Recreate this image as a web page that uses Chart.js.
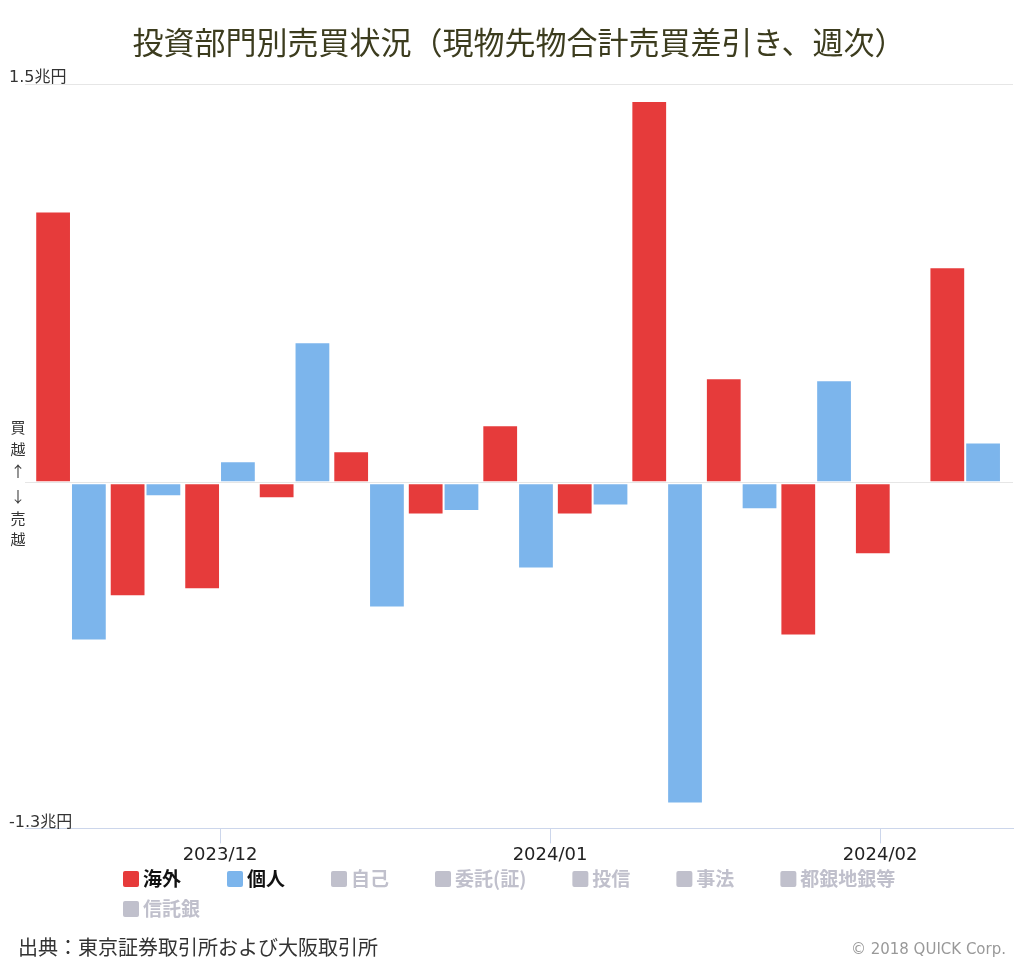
<!DOCTYPE html>
<html lang="ja">
<head>
<meta charset="utf-8">
<title>投資部門別売買状況</title>
<script src="https://cdn.jsdelivr.net/npm/chart.js@4.4.1/dist/chart.umd.min.js"></script>
<style>
  html, body { margin: 0; padding: 0; background: #fff; }
  #wrap { width: 1024px; height: 964px; position: relative; }
</style>
</head>
<body>
<div id="wrap"><canvas id="flowChart" width="1024" height="964"></canvas></div>
<script>
// ================================================
// 投資部門別売買状況 - weekly net buying (兆円)
// ================================================

// week (Friday) of each bar group
const weeks = ['2023-11-17', '2023-11-24', '2023-12-01', '2023-12-08', '2023-12-15', '2023-12-22',
  '2023-12-29', '2024-01-05', '2024-01-12', '2024-01-19', '2024-01-26', '2024-02-02', '2024-02-09'];

// 海外 / 個人 net buy (+) or sell (-), trillion yen
const foreign = [1.02, -0.427, -0.40, -0.058, 0.119, -0.119, 0.216, -0.119, 1.436, 0.393, -0.574, -0.269, 0.811];
const individual = [-0.593, -0.051, 0.081, 0.529, -0.469, -0.106, -0.322, -0.085, -1.206, -0.10, 0.386, 0.009, 0.152];

// series shown greyed-out in the legend
const hiddenSeries = ['自己', '委託(証)', '投信', '事法', '都銀地銀等', '信託銀'];

// axis ticks
const tickDates = ['2023-12-01', '2024-01-01', '2024-02-01'];
const tickLabels = ['2023/12', '2024/01', '2024/02'];
const yTicks = [-1.3, 0, 1.5];

const RED = '#e63b3b';
const BLUE = '#7cb5ec';
const GREY = '#c0c0cc';
const JP = '"Noto Sans CJK JP", sans-serif';
const AXIS_FONT = '"DejaVu Sans", "Noto Sans CJK JP", sans-serif';

const origin = Date.UTC(2023, 11, 1);
function dayNum(d) {
  return (Date.parse(d + 'T00:00:00Z') - origin) / 86400000;
}
function points(values) {
  return values.map((v, i) => ({ x: dayNum(weeks[i]), y: v }));
}

// y labels, legend, 買越/売越 marker and footer text
const extras = {
  id: 'extras',
  afterDraw(chart) {
    const ctx = chart.ctx;
    const yScale = chart.scales.y;
    ctx.save();

    // y labels sit just above their grid line
    ctx.font = '16px ' + AXIS_FONT;
    ctx.fillStyle = '#333';
    ctx.textAlign = 'left';
    ctx.textBaseline = 'middle';
    yTicks.filter(v => v !== 0).forEach(v => {
      ctx.fillText(v + '兆円', 9, yScale.getPixelForValue(v) - 6);
    });

    // vertical 買越 ↑ ↓ 売越 next to zero line
    const zero = yScale.getPixelForValue(0);
    ctx.font = '15px ' + JP;
    ctx.textAlign = 'center';
    [['買', -55], ['越', -33], ['↑', -11], ['↓', 14], ['売', 36], ['越', 57]].forEach(([ch, dy]) => {
      ctx.fillText(ch, 18, zero + dy);
    });

    // legend
    ctx.font = 'bold 19px ' + JP;
    ctx.textAlign = 'left';
    let x = 123, y = 879;
    chart.data.datasets.forEach(ds => {
      const w = ctx.measureText(ds.label).width;
      if (x + 20 + w > 915) { x = 123; y += 30; }
      const on = !ds.hidden;
      ctx.fillStyle = on ? ds.backgroundColor : GREY;
      ctx.beginPath();
      ctx.roundRect(x, y - 8, 16, 16, 2);
      ctx.fill();
      ctx.fillStyle = on ? '#111' : GREY;
      ctx.fillText(ds.label, x + 20, y);
      x += 20 + w + 46;
    });

    // footer
    ctx.font = '20px ' + JP;
    ctx.fillStyle = '#333';
    ctx.fillText('出典：東京証券取引所および大阪取引所', 18, 947);
    ctx.font = '15px "DejaVu Sans", sans-serif';
    ctx.fillStyle = '#999';
    ctx.textAlign = 'right';
    ctx.fillText('© 2018 QUICK Corp.', 1006, 950);

    ctx.restore();
  }
};

const barStyle = {
  borderColor: 'rgba(255,255,255,0.5)',
  borderWidth: 1,
  borderSkipped: false,
  categoryPercentage: 0.96,
  barPercentage: 1
};

new Chart(document.getElementById('flowChart'), {
  type: 'bar',
  data: {
    datasets: [
      { label: '海外', data: points(foreign), backgroundColor: RED, ...barStyle },
      { label: '個人', data: points(individual), backgroundColor: BLUE, ...barStyle },
      ...hiddenSeries.map(name => ({ label: name, data: [], backgroundColor: GREY, hidden: true }))
    ]
  },
  options: {
    responsive: false,
    animation: false,
    layout: { padding: { left: 25, right: 11, top: 0, bottom: 97 } },
    plugins: {
      legend: { display: false },
      tooltip: { enabled: false },
      title: {
        display: true,
        text: '投資部門別売買状況（現物先物合計売買差引き、週次）',
        color: '#3c3c1e',
        font: { family: JP, size: 31, weight: 'normal' },
        padding: { top: 24, bottom: 22.8 }
      }
    },
    scales: {
      x: {
        type: 'linear',
        offset: false,
        min: -18.32,
        max: 74.49,
        afterBuildTicks: scale => { scale.ticks = tickDates.map(d => ({ value: dayNum(d) })); },
        ticks: {
          callback: (v, i) => tickLabels[i],
          color: '#222',
          font: { family: AXIS_FONT, size: 18 },
          padding: 1,
          maxRotation: 0,
          autoSkip: false
        },
        grid: { offset: false, drawOnChartArea: false, drawTicks: true, tickLength: 15, tickColor: '#ccd6eb' },
        border: { color: '#ccd6eb', width: 1 }
      },
      y: {
        min: -1.3,
        max: 1.5,
        afterBuildTicks: scale => { scale.ticks = yTicks.map(v => ({ value: v })); },
        ticks: { display: false },
        grid: {
          drawTicks: false,
          color: c => (c.tick && c.tick.value === -1.3 ? '#ccd6eb' : '#e6e6e6')
        },
        border: { display: false }
      }
    }
  },
  plugins: [extras]
});
</script>
</body>
</html>
